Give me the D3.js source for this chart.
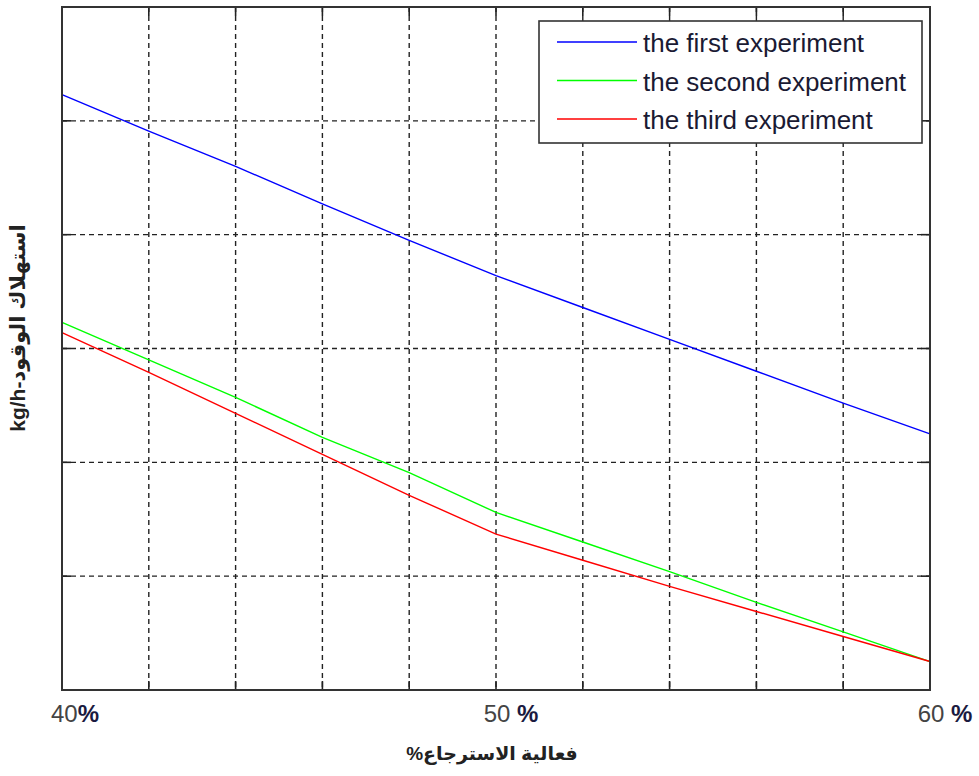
<!DOCTYPE html>
<html>
<head>
	<meta charset="utf-8">
	<title></title>
	<script src="https://cdn.jsdelivr.net/npm/d3@7/dist/d3.min.js"></script>
	<style type="text/css">
		body{
			margin: 0;
			padding: 0;
			background: #fff;
		}
		svg{
			display: block;
			font-family: Arial, "Liberation Sans", "DejaVu Sans", sans-serif;
		}
	</style>
</head>
<body>
	<svg id="svg" width="979" height="776"></svg>
</body>
	<script type="text/javascript">
		// recovery efficiency, %
		let efficiency = [40, 42, 44, 46, 48, 50, 52, 54, 56, 58, 60];
		// fuel consumption (no tick labels on the original, read in grid units)
		let firstExp  = [5.23, 4.91, 4.60, 4.27, 3.95, 3.64, 3.36, 3.08, 2.80, 2.52, 2.25];
		let secondExp = [3.23, 2.90, 2.57, 2.22, 1.91, 1.56, 1.30, 1.04, 0.77, 0.51, 0.25];
		let thirdExp  = [3.14, 2.79, 2.43, 2.07, 1.71, 1.37, 1.14, 0.91, 0.69, 0.47, 0.25];
		let seriesNames = ['the first experiment', 'the second experiment', 'the third experiment'];
		let seriesColors = ['#0000ff', '#00ff00', '#ff0000'];
		let xTickValues = [40, 50, 60];
		let xTickLabels = ['40', '50 ', '60 '];
		let xGrid = d3.range(40, 61, 2);
		let yGrid = d3.range(0, 7, 1);

		let svg = d3.select('#svg');
		let plot = {left: 62, right: 930, top: 7, bottom: 690};

		let x = d3.scaleLinear().domain([40, 60]).range([plot.left, plot.right]);
		let y = d3.scaleLinear().domain([0, 6]).range([plot.bottom, plot.top]);

		// grid
		let grid = svg.append('g').attr('class', 'grid');
		grid.selectAll('line.gx')
			.data(xGrid.slice(1, -1))
			.enter().append('line')
			.attr('class', 'gx')
			.attr('x1', d => x(d)).attr('x2', d => x(d))
			.attr('y1', plot.top).attr('y2', plot.bottom);
		grid.selectAll('line.gy')
			.data(yGrid.slice(1, -1))
			.enter().append('line')
			.attr('class', 'gy')
			.attr('y1', d => y(d)).attr('y2', d => y(d))
			.attr('x1', plot.left).attr('x2', plot.right);
		grid.selectAll('line')
			.style('stroke', '#222')
			.style('stroke-width', 1.4)
			.style('stroke-dasharray', '5,4');

		// inward ticks on all four sides (matlab style)
		let tickLen = 9;
		let ticks = svg.append('g').attr('class', 'ticks');
		xGrid.forEach(function(d){
			ticks.append('line').attr('x1', x(d)).attr('x2', x(d)).attr('y1', plot.bottom).attr('y2', plot.bottom - tickLen);
			ticks.append('line').attr('x1', x(d)).attr('x2', x(d)).attr('y1', plot.top).attr('y2', plot.top + tickLen);
		});
		yGrid.forEach(function(d){
			ticks.append('line').attr('y1', y(d)).attr('y2', y(d)).attr('x1', plot.left).attr('x2', plot.left + tickLen);
			ticks.append('line').attr('y1', y(d)).attr('y2', y(d)).attr('x1', plot.right).attr('x2', plot.right - tickLen);
		});
		ticks.selectAll('line').style('stroke', '#222').style('stroke-width', 1.6);

		// series
		let allSeries = [firstExp, secondExp, thirdExp];
		let line = d3.line()
			.x((d, i) => x(efficiency[i]))
			.y(d => y(d));
		allSeries.forEach(function(vals, i){
			svg.append('path')
				.attr('d', line(vals))
				.style('fill', 'none')
				.style('stroke', seriesColors[i])
				.style('stroke-width', 1.4);
		});

		// frame
		svg.append('rect')
			.attr('x', plot.left).attr('y', plot.top)
			.attr('width', plot.right - plot.left)
			.attr('height', plot.bottom - plot.top)
			.style('fill', 'none')
			.style('stroke', '#333')
			.style('stroke-width', 2);

		// x tick labels (the labels sit a bit to the right of their ticks)
		let labelShift = [13, 15, 15];
		xTickValues.forEach(function(d, i){
			let t = svg.append('text')
				.attr('x', x(d) + labelShift[i])
				.attr('y', 722)
				.style('text-anchor', 'middle')
				.style('font-size', '24px');
			t.append('tspan').text(xTickLabels[i]).style('fill', '#444');
			t.append('tspan').text('%').style('fill', '#1a1a40').style('font-weight', 'bold');
		});

		// axis titles
		svg.append('text')
			.attr('x', 492)
			.attr('y', 760)
			.attr('direction', 'rtl')
			.style('text-anchor', 'middle')
			.style('font-size', '19px')
			.style('font-weight', 'bold')
			.style('fill', '#222')
			.text('فعالية الاسترجاع%');

		svg.append('text')
			.attr('transform', 'translate(25,328) rotate(-90)')
			.style('text-anchor', 'middle')
			.style('font-size', '21px')
			.style('font-weight', 'bold')
			.style('fill', '#222')
			.text('kg/h-استهلاك الوقود');

		// legend
		let legend = svg.append('g').attr('class', 'legend');
		legend.append('rect')
			.attr('x', 539).attr('y', 21)
			.attr('width', 383).attr('height', 122)
			.style('fill', '#fff')
			.style('stroke', '#333')
			.style('stroke-width', 1.6);
		let legendY = d3.scalePoint().domain(seriesNames).range([42, 119]);
		seriesNames.forEach(function(name, i){
			legend.append('line')
				.attr('x1', 557).attr('x2', 637)
				.attr('y1', legendY(name)).attr('y2', legendY(name))
				.style('stroke', seriesColors[i])
				.style('stroke-width', 1.4);
			legend.append('text')
				.attr('x', 643)
				.attr('y', legendY(name) + 10)
				.style('font-size', '26px')
				.style('fill', '#1a1a33')
				.text(name);
		});
	</script>
</html>
